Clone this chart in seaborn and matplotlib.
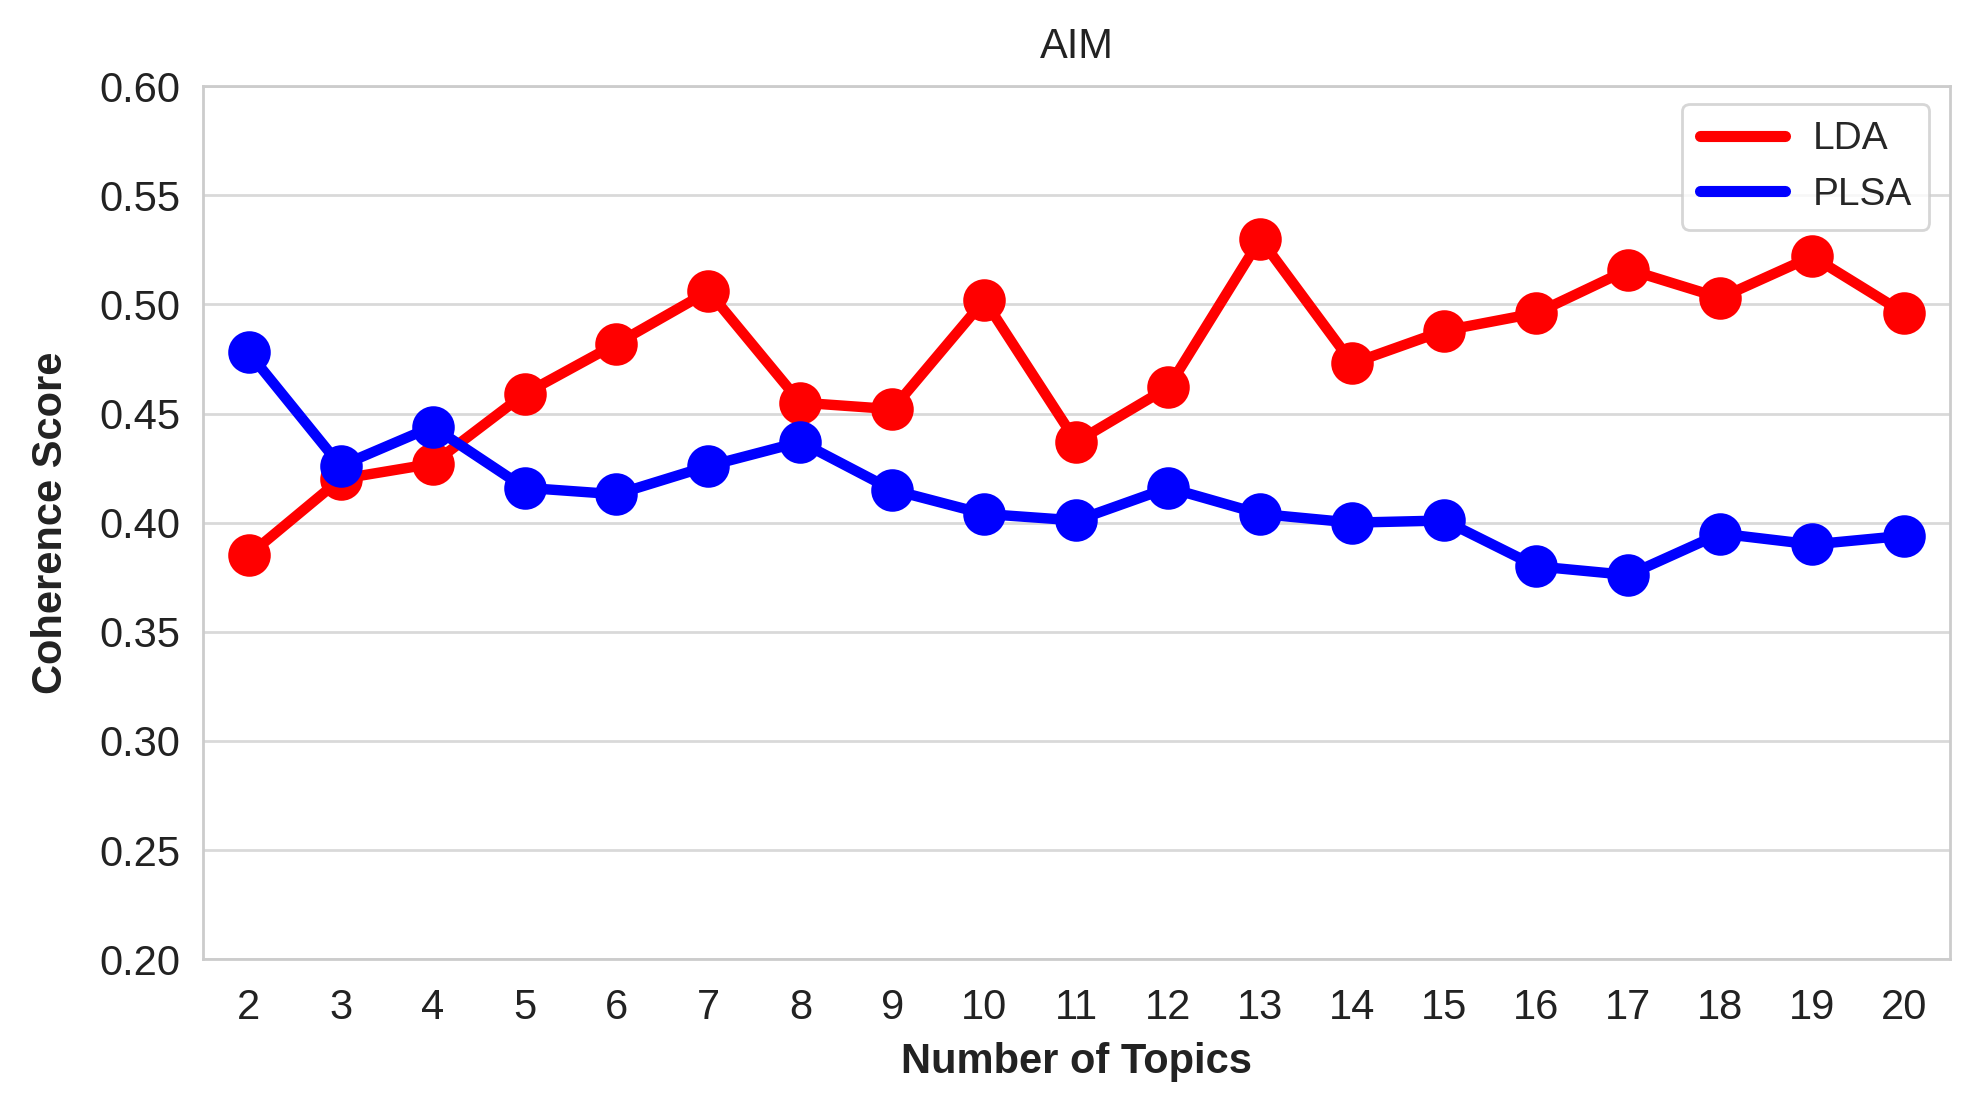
import matplotlib
matplotlib.use("Agg")
import matplotlib.pyplot as plt
from matplotlib.lines import Line2D
import seaborn as sns
import pandas as pd

topics = [2, 3, 4, 5, 6, 7, 8, 9, 10, 11, 12, 13, 14, 15, 16, 17, 18, 19, 20]
lda = [0.385, 0.420, 0.427, 0.459, 0.482, 0.506, 0.455, 0.452, 0.502, 0.437,
       0.462, 0.530, 0.473, 0.488, 0.496, 0.516, 0.503, 0.522, 0.496]
plsa = [0.478, 0.426, 0.444, 0.416, 0.413, 0.426, 0.437, 0.415, 0.404, 0.401,
        0.416, 0.404, 0.400, 0.401, 0.380, 0.376, 0.395, 0.390, 0.394]
series_names = ["LDA", "PLSA"]
colors = {"LDA": "#ff0000", "PLSA": "#0000ff"}

df = pd.concat([
    pd.DataFrame({"Topics": topics, "Score": lda, "Model": "LDA"}),
    pd.DataFrame({"Topics": topics, "Score": plsa, "Model": "PLSA"}),
])

sns.set_theme(style="whitegrid")
plt.rcParams["font.family"] = ["Liberation Sans", "DejaVu Sans"]
plt.rcParams["axes.edgecolor"] = "#cccccc"
plt.rcParams["grid.color"] = "#d9d9d9"

fig = plt.figure(figsize=(19.86, 11.05), dpi=100)
ax = fig.add_axes([0.102, 0.132, 0.880, 0.790])

sns.pointplot(data=df, x="Topics", y="Score", hue="Model", palette=colors,
              hue_order=series_names, markers="o", markersize=25,
              linewidth=7.5, ax=ax, legend=False)

ax.set_ylim(0.20, 0.60)
ax.set_yticks([0.20, 0.25, 0.30, 0.35, 0.40, 0.45, 0.50, 0.55, 0.60])
ax.set_yticklabels([f"{v:.2f}" for v in ax.get_yticks()])
ax.grid(axis="x", visible=False)
ax.grid(axis="y", linewidth=2)
for s in ax.spines.values():
    s.set_linewidth(2)
    s.set_color("#cccccc")
ax.tick_params(axis="y", labelsize=30, colors="#222222", pad=10)
ax.tick_params(axis="x", labelsize=30, colors="#222222", pad=15)
ax.set_xlabel("Number of Topics", fontsize=30, fontweight="bold", color="#222222", labelpad=10)
ax.set_ylabel("Coherence Score", fontsize=30, fontweight="bold", color="#222222", labelpad=20)
ax.set_title("AIM", fontsize=30, color="#222222", pad=20)

handles = [Line2D([0], [0], color=colors[n], linewidth=8, solid_capstyle="round") for n in series_names]
leg = ax.legend(handles, series_names, loc="upper right", fontsize=28,
                frameon=True, handlelength=2.2, borderpad=0.45, labelspacing=0.5,
                handletextpad=0.7, borderaxespad=0.0, bbox_to_anchor=(0.988, 0.98))
leg.get_frame().set_edgecolor("#cccccc")
leg.get_frame().set_linewidth(2)

fig.savefig("out.png", dpi=100, facecolor="white")
